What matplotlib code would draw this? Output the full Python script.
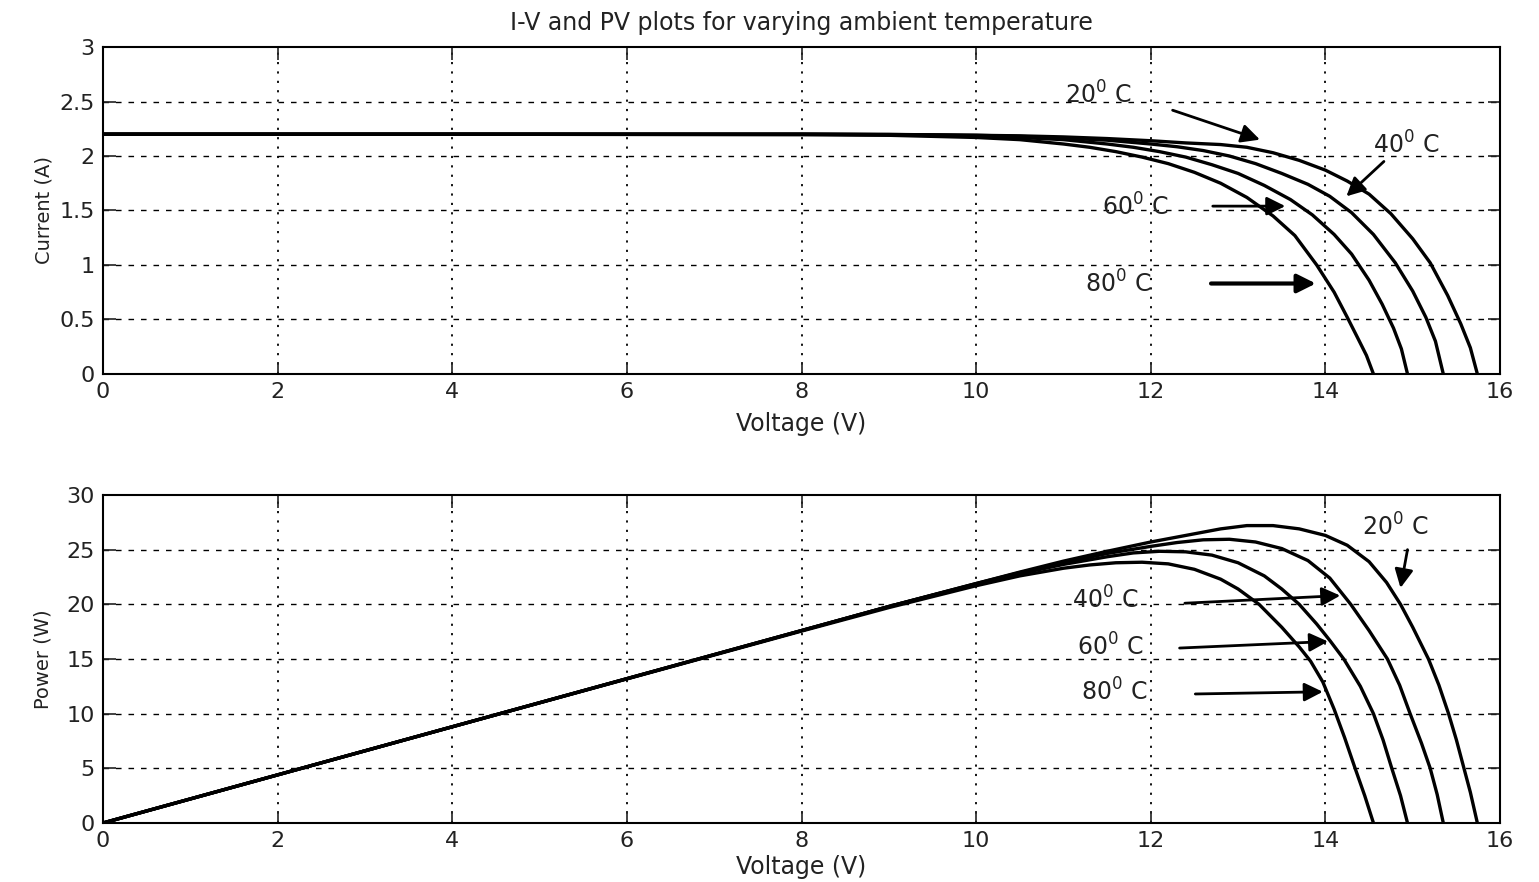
import matplotlib.pyplot as plt
import numpy as np

# I-V curves (voltage in V, current in A)
v20 = [0, 4, 8, 9, 10, 10.5, 11, 11.5, 12, 12.4, 12.8, 13.1, 13.4, 13.7, 14.0, 14.25,
       14.5, 14.75, 15.0, 15.2, 15.4, 15.55, 15.66, 15.74]
i20 = [2.2, 2.2, 2.2, 2.198, 2.19, 2.185, 2.175, 2.16, 2.14, 2.12, 2.105, 2.08, 2.03,
       1.96, 1.87, 1.77, 1.65, 1.47, 1.24, 1.02, 0.72, 0.46, 0.24, 0]
v40 = [0, 4, 8, 9, 10, 10.5, 11, 11.5, 12, 12.3, 12.6, 12.9, 13.2, 13.5, 13.8, 14.05,
       14.3, 14.55, 14.8, 15.0, 15.15, 15.26, 15.35]
i40 = [2.2, 2.2, 2.2, 2.197, 2.19, 2.18, 2.165, 2.145, 2.11, 2.085, 2.05, 2.0, 1.93,
       1.84, 1.74, 1.63, 1.48, 1.28, 1.02, 0.76, 0.52, 0.30, 0]
v60 = [0, 4, 8, 9, 10, 10.5, 11, 11.5, 11.8, 12.1, 12.4, 12.7, 13.0, 13.3, 13.6, 13.85,
       14.1, 14.3, 14.5, 14.65, 14.78, 14.87, 14.94]
i60 = [2.2, 2.2, 2.2, 2.195, 2.185, 2.17, 2.15, 2.11, 2.08, 2.04, 1.99, 1.92, 1.84,
       1.73, 1.60, 1.46, 1.28, 1.10, 0.86, 0.64, 0.42, 0.23, 0]
v80 = [0, 4, 8, 9, 10, 10.5, 11, 11.3, 11.6, 11.9, 12.2, 12.5, 12.8, 13.1, 13.4, 13.65,
       13.9, 14.1, 14.25, 14.37, 14.47, 14.55]
i80 = [2.2, 2.2, 2.195, 2.19, 2.17, 2.15, 2.11, 2.08, 2.04, 1.99, 1.93, 1.85, 1.75,
       1.62, 1.45, 1.27, 1.0, 0.75, 0.52, 0.33, 0.17, 0]

# P-V curves (voltage in V, power in W)
pv20 = [0, 4, 8, 9, 10, 10.5, 11, 11.5, 12, 12.4, 12.8, 13.1, 13.4, 13.7, 14.0, 14.25,
        14.5, 14.7, 14.86, 15.0, 15.18, 15.3, 15.41, 15.5, 15.58, 15.66, 15.74]
p20 = [0, 8.8, 17.6, 19.8, 21.9, 22.95, 23.95, 24.85, 25.7, 26.3, 26.9, 27.2, 27.2,
       26.9, 26.3, 25.4, 23.9, 22.0, 20.0, 17.9, 15.0, 12.6, 10.0, 7.6, 5.2, 2.8, 0]
pv40 = [0, 4, 8, 9, 10, 10.5, 11, 11.5, 12, 12.3, 12.6, 12.9, 13.2, 13.5, 13.8, 14.05,
        14.29, 14.5, 14.71, 14.85, 14.97, 15.1, 15.2, 15.28, 15.35]
p40 = [0, 8.8, 17.6, 19.8, 21.9, 22.9, 23.8, 24.65, 25.3, 25.65, 25.9, 25.95, 25.7,
       25.1, 24.0, 22.4, 20.0, 17.6, 15.0, 12.6, 10.0, 7.3, 5.0, 2.6, 0]
pv60 = [0, 4, 8, 9, 10, 10.5, 11, 11.5, 11.8, 12.1, 12.4, 12.7, 13.0, 13.3, 13.5, 13.7,
        13.9, 14.05, 14.21, 14.4, 14.55, 14.66, 14.76, 14.86, 14.94]
p60 = [0, 8.8, 17.6, 19.8, 21.85, 22.8, 23.65, 24.35, 24.7, 24.85, 24.8, 24.5, 23.8,
       22.6, 21.4, 20.0, 18.2, 16.7, 15.0, 12.5, 10.0, 7.6, 5.0, 2.5, 0]
pv80 = [0, 4, 8, 9, 10, 10.5, 11, 11.3, 11.6, 11.9, 12.2, 12.5, 12.8, 13.0, 13.24, 13.5,
        13.7, 13.83, 13.97, 14.1, 14.22, 14.34, 14.45, 14.55]
p80 = [0, 8.8, 17.55, 19.7, 21.7, 22.6, 23.3, 23.6, 23.8, 23.85, 23.7, 23.2, 22.3, 21.4,
       20.0, 17.9, 16.1, 14.8, 12.9, 10.4, 7.8, 5.0, 2.5, 0]

# annotation labels: temperature, text position, arrow start, arrow tip, arrow width
iv_notes = [
    ('20', (11.4, 2.56), (12.25, 2.42), (13.25, 2.15), 2.0),
    ('40', (14.92, 2.10), (14.67, 1.95), (14.24, 1.63), 2.0),
    ('60', (11.82, 1.53), (12.71, 1.54), (13.54, 1.54), 2.0),
    ('80', (11.63, 0.83), (12.69, 0.83), (13.89, 0.83), 3.0),
]
pv_notes = [
    ('20', (14.80, 27.1), (14.94, 25.0), (14.86, 21.5), 2.0),
    ('40', (11.48, 20.4), (12.39, 20.1), (14.17, 20.8), 2.0),
    ('60', (11.53, 16.1), (12.33, 16.0), (14.03, 16.6), 2.0),
    ('80', (11.58, 12.0), (12.51, 11.8), (13.97, 12.0), 2.0),
]

plt.rcParams['font.family'] = ['DejaVu Sans']
plt.rcParams['mathtext.fontset'] = 'dejavusans'

fig = plt.figure(figsize=(15.39, 8.82), dpi=100)
ax1 = fig.add_axes([0.0669, 0.576, 0.9078, 0.3707])
ax2 = fig.add_axes([0.0669, 0.0669, 0.9078, 0.3719])


def style_axes(ax, yticks):
    ax.set_xlim(0, 16)
    ax.set_ylim(yticks[0], yticks[-1])
    ax.set_xticks(np.arange(0, 17, 2))
    ax.set_yticks(yticks)
    ax.tick_params(direction='in', top=True, right=True, length=9, width=1.2,
                   labelsize=16, colors='#222222', pad=6)
    for s in ax.spines.values():
        s.set_linewidth(1.5)
    for x in np.arange(2, 16, 2):
        ax.axvline(x, color='black', lw=1.3, ls=(0, (1.2, 4)), zorder=0)
    for y in yticks[1:-1]:
        ax.axhline(y, color='black', lw=1.0, ls=(0, (4, 5)), zorder=0)


def draw_notes(ax, notes):
    for lab, tpos, start, tip, lw in notes:
        ax.text(tpos[0], tpos[1], lab + r'$^0$ C', fontsize=17, color='#222222',
                ha='center', va='center')
        ax.annotate('', xy=tip, xytext=start,
                    arrowprops=dict(arrowstyle='-|>', color='black', lw=lw,
                                    mutation_scale=28, shrinkA=0, shrinkB=0))


for v, c in [(v20, i20), (v40, i40), (v60, i60), (v80, i80)]:
    ax1.plot(v, c, color='black', lw=2.4)
style_axes(ax1, np.arange(0, 3.01, 0.5))
ax1.set_yticklabels(['0', '0.5', '1', '1.5', '2', '2.5', '3'])
ax1.set_xlabel('Voltage (V)', fontsize=17, color='#222222', labelpad=7)
ax1.set_ylabel('Current (A)', fontsize=14, color='#222222', labelpad=4)
ax1.set_title('I-V and PV plots for varying ambient temperature', fontsize=17,
              color='#222222', pad=12)
draw_notes(ax1, iv_notes)

for v, p in [(pv20, p20), (pv40, p40), (pv60, p60), (pv80, p80)]:
    ax2.plot(v, p, color='black', lw=2.4)
style_axes(ax2, np.arange(0, 31, 5))
ax2.set_xlabel('Voltage (V)', fontsize=17, color='#222222', labelpad=3)
ax2.set_ylabel('Power (W)', fontsize=14, color='#222222', labelpad=10)
draw_notes(ax2, pv_notes)

fig.savefig('out.png', dpi=100)
